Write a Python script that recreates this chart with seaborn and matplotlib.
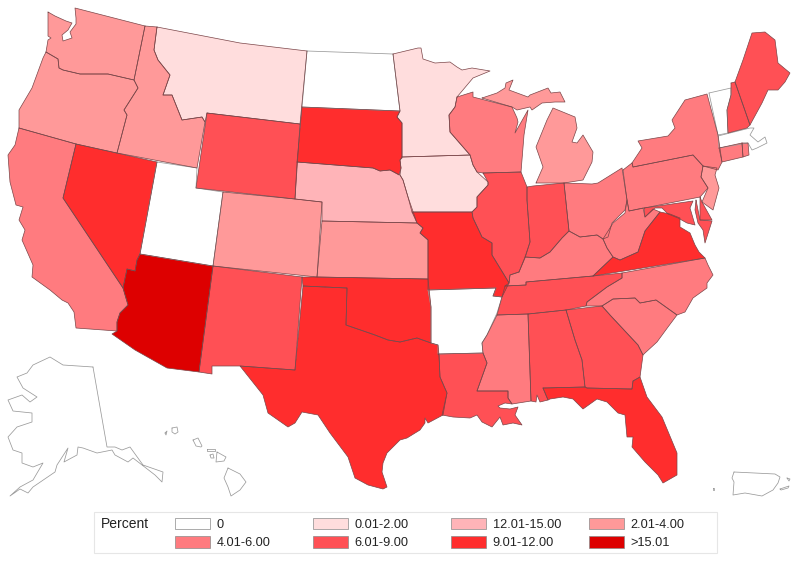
import pandas as pd
import matplotlib.pyplot as plt
from matplotlib.patches import Patch, Rectangle
import seaborn as sns

# State outlines (x, y in image pixels)
WA = [(48,12),(55,16),(66,21),(72,23),(68,30),(62,35),(63,41),(72,38),(70,32),(76,24),(76,18),(75,8),(145,26),(134,80),(108,74),(80,74),(63,70),(59,68),(58,59),(46,52),(48,40),(51,38),(48,36)]
OR = [(46,52),(58,59),(59,68),(63,70),(80,74),(108,74),(134,80),(138,88),(124,110),(127,115),(117,153),(76,144),(19,128),(19,110),(32,88),(43,58)]
ID = [(145,26),(157,27),(154,50),(158,60),(170,75),(163,95),(172,95),(182,120),(202,117),(205,122),(197,168),(117,153),(127,115),(124,110),(138,88),(134,80)]
MT = [(157,27),(240,43),(307,51),(300,124),(207,113),(205,122),(202,117),(182,120),(172,95),(163,95),(170,75),(158,60),(154,50)]
WY = [(207,113),(300,124),(295,199),(196,188)]
UT = [(157,162),(197,168),(196,188),(223,192),(213,266),(140,254)]
NV = [(76,144),(157,162),(140,254),(137,260),(135,271),(127,269),(123,288),(63,198)]
CA = [(19,128),(76,144),(63,198),(123,288),(128,305),(120,313),(117,322),(117,331),(76,328),(74,312),(68,303),(62,300),(50,290),(32,277),(33,265),(22,240),(25,230),(19,220),(23,207),(16,205),(10,182),(8,155),(15,145)]
AZ = [(140,254),(213,266),(199,372),(167,368),(135,350),(112,334),(117,331),(117,322),(120,313),(128,305),(123,288),(127,269),(135,271),(137,260)]
NM = [(213,266),(302,277),(295,370),(240,366),(212,366),(212,374),(199,372)]
CO = [(223,192),(295,199),(322,202),(317,277),(213,266)]
NE = [(297,162),(373,168),(380,171),(390,170),(400,175),(403,180),(408,197),(417,223),(322,221),(322,202),(295,199)]
KS = [(322,221),(417,223),(423,228),(420,233),(428,240),(428,279),(317,277)]
OK = [(302,277),(317,277),(428,279),(431,307),(431,343),(417,338),(400,342),(388,340),(375,335),(346,325),(347,288),(303,286)]
TX = [(303,286),(347,288),(346,325),(375,335),(388,340),(400,342),(417,338),(431,343),(438,345),(439,355),(440,377),(447,393),(443,415),(428,423),(425,418),(425,423),(420,430),(407,438),(400,440),(387,453),(383,463),(382,472),(387,487),(383,489),(368,485),(355,478),(348,457),(330,433),(318,415),(302,412),(295,423),(288,427),(268,413),(263,395),(240,366),(295,370)]
ND = [(307,51),(393,54),(400,111),(302,107)]
SD = [(302,107),(400,111),(397,117),(402,123),(402,158),(400,160),(401,168),(399,175),(390,170),(380,171),(373,168),(297,162)]
MN = [(393,54),(418,48),(421,48),(423,59),(435,63),(450,62),(457,67),(462,70),(472,68),(490,71),(473,78),(457,97),(455,107),(449,115),(450,132),(470,155),(402,157),(402,123),(397,117),(400,111)]
IA = [(402,157),(470,155),(473,165),(477,172),(488,182),(488,185),(477,197),(477,207),(472,212),(412,212),(408,197),(403,180),(400,175),(401,168),(400,160)]
MO = [(412,212),(472,212),(473,218),(482,237),(492,243),(492,255),(503,273),(509,283),(502,297),(493,296),(496,288),(428,290),(428,240),(420,233),(423,228),(417,223)]
AR = [(428,290),(496,288),(493,296),(502,297),(497,313),(487,335),(482,343),(483,353),(438,354),(438,345),(431,343),(431,307)]
LA = [(438,354),(483,353),(487,363),(477,391),(508,391),(508,398),(512,404),(505,403),(498,406),(500,408),(510,409),(518,407),(515,415),(522,425),(513,423),(503,425),(500,417),(492,427),(482,422),(477,415),(470,418),(453,417),(442,415),(447,393),(440,377),(439,355)]
MS = [(497,315),(528,314),(531,401),(512,404),(508,398),(508,391),(477,391),(487,363),(483,353),(482,343),(487,335)]
AL = [(528,314),(566,310),(575,340),(582,360),(585,387),(543,388),(548,400),(540,402),(537,395),(536,402),(531,401)]
GA = [(566,310),(602,306),(610,315),(638,345),(643,355),(640,377),(633,381),(632,389),(587,388),(585,387),(582,360),(575,340)]
FL = [(543,388),(585,387),(587,388),(632,389),(633,381),(640,377),(647,397),(662,417),(677,453),(677,475),(663,483),(658,475),(645,462),(632,447),(633,437),(627,437),(625,415),(618,413),(607,402),(597,399),(583,409),(573,399),(563,397),(550,399),(548,400)]
SC = [(602,306),(613,299),(635,298),(640,303),(656,300),(677,315),(668,327),(657,342),(645,353),(643,355),(638,345),(610,315)]
NC = [(622,273),(705,258),(708,265),(713,275),(707,283),(707,288),(700,293),(693,298),(685,312),(677,315),(656,300),(640,303),(635,298),(613,299),(602,306),(586,306),(587,302),(607,287),(622,278)]
TN = [(505,286),(526,285),(526,282),(593,276),(622,273),(622,278),(607,287),(587,302),(586,306),(566,310),(528,314),(497,315),(502,297)]
KY = [(519,272),(525,257),(540,258),(550,252),(562,238),(569,231),(580,237),(597,235),(603,239),(607,248),(613,257),(593,276),(526,282),(526,285),(505,286),(509,283),(510,275)]
IL = [(483,173),(521,172),(527,187),(527,200),(530,242),(525,258),(519,272),(510,275),(509,283),(503,273),(492,255),(492,243),(482,237),(473,218),(472,212),(477,207),(477,197),(488,185),(488,182)]
IN = [(527,187),(533,186),(564,183),(569,231),(562,238),(550,252),(540,258),(525,257),(530,242),(527,200)]
OH = [(564,183),(592,184),(598,183),(622,168),(627,200),(625,210),(612,223),(608,237),(603,239),(597,235),(580,237),(569,231)]
MI_LOWER = [(536,183),(543,167),(536,147),(547,120),(553,108),(575,117),(577,128),(572,142),(577,143),(583,135),(593,152),(592,162),(583,180),(564,183)]
MI_UPPER = [(482,98),(497,93),(505,88),(506,83),(513,80),(509,90),(528,97),(530,95),(548,88),(551,93),(560,92),(565,102),(555,102),(542,103),(532,110),(530,107),(517,110),(512,107)]
WI = [(457,97),(473,92),(473,97),(512,107),(517,118),(518,122),(515,133),(528,110),(524,135),(521,172),(483,173),(477,172),(473,165),(470,155),(450,132),(449,115),(455,107)]
PA = [(623,170),(632,163),(633,167),(693,155),(703,166),(701,177),(708,188),(700,197),(629,211),(627,200)]
NY = [(632,163),(642,148),(638,141),(668,136),(675,128),(672,120),(685,100),(707,94),(718,135),(722,162),(718,170),(703,166),(693,155),(633,167)]
NJ = [(703,166),(717,168),(715,175),(719,188),(713,210),(702,202),(708,188),(701,177)]
DE = [(700,197),(702,202),(712,220),(700,220)]
MD_WEST = [(644,208),(693,201),(690,208),(695,225),(687,223),(678,218),(668,214),(662,208),(655,208),(645,217)]
MD_EAST = [(696,200),(700,220),(712,221),(705,243),(703,230),(698,223),(695,210)]
VA = [(593,276),(613,257),(620,260),(638,252),(645,231),(660,212),(670,214),(680,218),(680,227),(690,233),(695,245),(699,252),(705,258)]
WV = [(603,239),(610,228),(613,223),(625,213),(627,200),(629,211),(643,208),(645,217),(653,209),(660,212),(645,231),(638,252),(620,260),(613,257),(607,248)]
CT = [(719,148),(742,143),(743,157),(722,162)]
RI = [(742,143),(748,143),(749,155),(743,157)]
MA = [(718,136),(750,128),(754,128),(750,135),(758,142),(765,137),(767,143),(757,148),(752,150),(748,143),(719,148)]
VT = [(709,93),(731,88),(731,95),(727,110),(728,133),(718,135)]
NH = [(731,83),(735,82),(750,125),(747,128),(728,133),(727,110),(731,95)]
ME = [(735,82),(743,60),(748,45),(752,33),(765,32),(775,40),(778,63),(790,73),(785,82),(778,90),(768,90),(762,103),(750,125)]
AK = [(93,367),(107,447),(115,447),(122,450),(130,447),(143,465),(163,472),(162,482),(155,475),(133,458),(128,462),(115,455),(112,450),(97,453),(83,448),(78,447),(77,455),(64,462),(68,448),(57,465),(55,472),(33,487),(28,493),(20,489),(10,496),(20,487),(33,480),(43,463),(33,467),(22,463),(22,453),(13,450),(8,437),(17,427),(32,422),(32,413),(13,411),(8,400),(22,395),(30,402),(37,397),(23,388),(17,377),(27,373),(33,365),(50,357),(63,365)]
HI_BIG = [(228,468),(240,474),(246,482),(240,490),(231,496),(228,487),(224,478)]
HI_MAUI = [(217,452),(226,457),(224,461),(216,462)]
HI_MOLOKAI = [(207,449),(215,449),(215,451),(207,451)]
HI_LANAI = [(210,455),(213,454),(214,458),(211,458)]
HI_OAHU = [(193,440),(198,438),(202,446),(201,447),(196,446)]
HI_KAUAI = [(172,428),(177,427),(178,432),(175,434),(172,432)]
HI_NIIHAU = [(165,433),(167,431),(166,435)]
PR = [(734,472),(775,474),(780,477),(778,483),(773,490),(762,496),(745,493),(733,495),(734,482),(732,478)]
PR_VIEQUES = [(780,489),(789,486),(788,488),(781,490)]
PR_CULEBRA = [(787,478),(790,479),(789,481)]
PR_MONA = [(713,488),(714,488),(714,490),(713,490)]

# Percent classes, by legend column (top row, bottom row)
labels = ['0', '4.01-6.00', '0.01-2.00', '6.01-9.00', '12.01-15.00', '9.01-12.00', '2.01-4.00', '>15.01']
colors = ['#FFFFFF', '#FF7B7F', '#FFDDDD', '#FF5055', '#FFB4B8', '#FF2D2D', '#FF9999', '#DD0000']
palette = dict(zip(labels, sns.color_palette(colors)))

class_0 = [ND, UT, AR, VT, MA, AK, HI_BIG, HI_MAUI, HI_MOLOKAI, HI_LANAI, HI_OAHU, HI_KAUAI, HI_NIIHAU, PR, PR_VIEQUES, PR_CULEBRA, PR_MONA]
class_001 = [MT, MN, IA]
class_12 = [NE]
class_2 = [WA, OR, ID, CO, KS, MI_LOWER, MI_UPPER, NJ]
class_4 = [CA, WI, NY, CT, RI, PA, OH, KY, WV, NC, SC, MS]
class_6 = [WY, NM, IL, IN, MD_WEST, MD_EAST, ME, NH, DE, AL, GA, TN, LA]
class_9 = [NV, SD, MO, TX, OK, VA, FL]
class_15 = [AZ]
classes = {'0': class_0, '0.01-2.00': class_001, '12.01-15.00': class_12, '2.01-4.00': class_2,
           '4.01-6.00': class_4, '6.01-9.00': class_6, '9.01-12.00': class_9, '>15.01': class_15}

sns.set_style('white')
plt.rcParams['font.family'] = ['Liberation Sans', 'DejaVu Sans']

fig = plt.figure(figsize=(8, 5.63), dpi=100)
ax = fig.add_axes([0, 0, 1, 1])

# Fill the states, then draw the borders as one long table of outline points
rows = []
part = 0
for name, shapes in classes.items():
    for shape in shapes:
        xs = [p[0] for p in shape]
        ys = [p[1] for p in shape]
        ax.fill(xs, ys, color=palette[name], lw=0, zorder=1)
        dark = name != '0'
        for x, y in shape + shape[:1]:
            rows.append({'x': x, 'y': y, 'part': part, 'dark': dark})
        part += 1
outlines = pd.DataFrame(rows)

sns.lineplot(data=outlines[~outlines['dark']], x='x', y='y', units='part', estimator=None, sort=False,
             color='#9a9a9a', lw=0.55, ax=ax, zorder=2)
sns.lineplot(data=outlines[outlines['dark']], x='x', y='y', units='part', estimator=None, sort=False,
             color='#7a4548', lw=0.5, ax=ax, zorder=3)

ax.set_xlim(0, 800)
ax.set_ylim(563, 0)
ax.axis('off')

# Legend box, one small legend per column so the pitch stays even
ax.add_patch(Rectangle((94, 512), 623, 41, fc='white', ec='#e6e6e6', lw=0.8, zorder=4))
ax.text(101, 524, 'Percent', fontsize=10, color='#222222', va='center', ha='left', zorder=5)
for i, col_x in enumerate([175, 313, 451, 589]):
    col_labels = labels[2 * i:2 * i + 2]
    handles = [Patch(facecolor=palette[l], edgecolor='#8a8a8a', lw=0.5) for l in col_labels]
    leg = ax.legend(handles, col_labels, frameon=False, fontsize=9.2, labelcolor='#222222', loc='lower left',
                    bbox_to_anchor=(col_x, 549), bbox_transform=ax.transData, borderpad=0, borderaxespad=0,
                    handlelength=2.7, handleheight=1.05, handletextpad=0.55, labelspacing=0.38)
    leg.set_zorder(6)
    ax.add_artist(leg)
# the last one is already kept through add_artist, don't draw it twice
ax.legend_ = None

fig.savefig('out.png', dpi=100)
